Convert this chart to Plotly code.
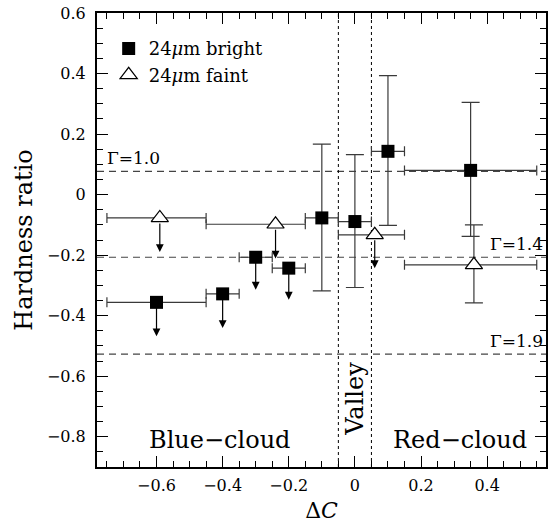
import plotly.graph_objects as go

FONT = "DejaVu Serif"

# ---------------- data ----------------
bright_x = [-0.6, -0.4, -0.3, -0.2, -0.1, 0.0, 0.1, 0.35]
bright_y = [-0.356, -0.328, -0.207, -0.243, -0.077, -0.089, 0.143, 0.080]
bright_xlo = [-0.75, -0.45, -0.35, -0.25, -0.15, -0.05, 0.05, 0.15]
bright_xhi = [-0.45, -0.35, -0.25, -0.15, -0.05, 0.05, 0.15, 0.55]
bright_ylo = [None, None, None, None, -0.318, -0.307, -0.102, -0.138]
bright_yhi = [None, None, None, None, 0.167, 0.132, 0.393, 0.305]
bright_limit = [-0.468, -0.441, -0.314, -0.347, None, None, None, None]

faint_x = [-0.59, -0.24, 0.06, 0.36]
faint_y = [-0.077, -0.098, -0.133, -0.232]
faint_xlo = [-0.75, -0.45, -0.05, 0.15]
faint_xhi = [-0.45, -0.15, 0.15, 0.55]
faint_ylo = [None, None, None, -0.358]
faint_yhi = [None, None, None, -0.100]
faint_limit = [-0.190, -0.211, -0.243, None]

gamma_levels = [0.077, -0.207, -0.527]
gamma_labels = ["Γ=1.0", "Γ=1.4", "Γ=1.9"]
valley_edges = [-0.05, 0.05]

xtick_vals = [-0.6, -0.4, -0.2, 0.0, 0.2, 0.4]
xtick_text = ["−0.6", "−0.4", "−0.2", "0", "0.2", "0.4"]
ytick_vals = [0.6, 0.4, 0.2, 0.0, -0.2, -0.4, -0.6, -0.8]
ytick_text = ["0.6", "0.4", "0.2", "0", "−0.2", "−0.4", "−0.6", "−0.8"]

ERRC = "#3a3a3a"

fig = go.Figure()


def add_series(xs, ys, xlo, xhi, ylo, yhi, marker, name):
    # points with only x errors (upper limits)
    lim = [i for i in range(len(xs)) if ylo[i] is None]
    det = [i for i in range(len(xs)) if ylo[i] is not None]
    if lim:
        fig.add_trace(go.Scatter(
            x=[xs[i] for i in lim], y=[ys[i] for i in lim], mode="markers",
            marker=marker, showlegend=False, name=name,
            error_x=dict(type="data", symmetric=False,
                         array=[xhi[i] - xs[i] for i in lim],
                         arrayminus=[xs[i] - xlo[i] for i in lim],
                         color=ERRC, thickness=1.2, width=5),
        ))
    if det:
        fig.add_trace(go.Scatter(
            x=[xs[i] for i in det], y=[ys[i] for i in det], mode="markers",
            marker=marker, showlegend=False, name=name,
            error_x=dict(type="data", symmetric=False,
                         array=[xhi[i] - xs[i] for i in det],
                         arrayminus=[xs[i] - xlo[i] for i in det],
                         color=ERRC, thickness=1.2, width=5),
            error_y=dict(type="data", symmetric=False,
                         array=[yhi[i] - ys[i] for i in det],
                         arrayminus=[ys[i] - ylo[i] for i in det],
                         color=ERRC, thickness=1.2, width=9),
        ))


sq_marker = dict(symbol="square", size=13, color="black", line=dict(width=0))
tri_marker = dict(symbol="triangle-up", size=15, color="white",
                  line=dict(color="black", width=1.2))

add_series(faint_x, faint_y, faint_xlo, faint_xhi, faint_ylo, faint_yhi,
           tri_marker, "faint")
add_series(bright_x, bright_y, bright_xlo, bright_xhi, bright_ylo, bright_yhi,
           sq_marker, "bright")

# upper-limit arrows
for xs, ys, lims, so in [(bright_x, bright_y, bright_limit, 0),
                         (faint_x, faint_y, faint_limit, 4)]:
    for xv, yv, lv in zip(xs, ys, lims):
        if lv is None:
            continue
        fig.add_annotation(x=xv, y=lv, ax=xv, ay=yv, xref="x", yref="y",
                           axref="x", ayref="y", text="", showarrow=True,
                           arrowhead=2, arrowsize=1.3, arrowwidth=1.2,
                           arrowcolor="black", startstandoff=so)

# legend entries
fig.add_trace(go.Scatter(x=[None], y=[None], mode="markers", marker=sq_marker,
                         name="24<i>μ</i>m bright"))
fig.add_trace(go.Scatter(x=[None], y=[None], mode="markers", marker=tri_marker,
                         name="24<i>μ</i>m faint"))

# reference lines
for lvl in gamma_levels:
    fig.add_hline(y=lvl, line=dict(color="#444444", width=1.2, dash="7px,5px"),
                  layer="below")
for v in valley_edges:
    fig.add_vline(x=v, line=dict(color="black", width=1, dash="dot"),
                  layer="below")

# Gamma labels
fig.add_annotation(x=-0.755, y=gamma_levels[0], xref="x", yref="y",
                   text=gamma_labels[0], showarrow=False, xanchor="left",
                   yanchor="bottom", yshift=1, font=dict(family=FONT, size=17))
for lvl, lab in zip(gamma_levels[1:], gamma_labels[1:]):
    fig.add_annotation(x=0.575, y=lvl, xref="x", yref="y", text=lab,
                       showarrow=False, xanchor="right", yanchor="bottom",
                       yshift=1, font=dict(family=FONT, size=17))

# region labels
fig.add_annotation(x=-0.41, y=-0.81, xref="x", yref="y", text="Blue−cloud",
                   showarrow=False, font=dict(family=FONT, size=24))
fig.add_annotation(x=0.0, y=-0.675, xref="x", yref="y", text="Valley",
                   showarrow=False, textangle=-90, font=dict(family=FONT, size=24))
fig.add_annotation(x=0.317, y=-0.81, xref="x", yref="y", text="Red−cloud",
                   showarrow=False, font=dict(family=FONT, size=24))

axis_common = dict(
    showline=True, linecolor="black", linewidth=2, mirror="allticks",
    ticks="inside", ticklen=11, tickwidth=1.2, tickcolor="black",
    showgrid=False, zeroline=False,
    tickfont=dict(family=FONT, size=16, color="black"),
)

fig.update_xaxes(
    range=[-0.78, 0.578], tickvals=xtick_vals, ticktext=xtick_text,
    minor=dict(dtick=0.05, tick0=0, ticks="inside", ticklen=6,
               tickwidth=1.2, tickcolor="black", showgrid=False),
    title=dict(text="Δ<i>C</i>", font=dict(family=FONT, size=22, color="black"),
               standoff=8),
    ticklabelstandoff=3,
    **axis_common,
)
fig.update_yaxes(
    range=[-0.9, 0.6], tickvals=ytick_vals, ticktext=ytick_text,
    minor=dict(dtick=0.05, tick0=0, ticks="inside", ticklen=6,
               tickwidth=1.2, tickcolor="black", showgrid=False),
    title=dict(text="Hardness ratio", font=dict(family=FONT, size=24, color="black"),
               standoff=8),
    ticklabelstandoff=6,
    **axis_common,
)

fig.update_layout(
    width=551, height=523,
    margin=dict(l=97, r=3, t=13, b=56),
    paper_bgcolor="white", plot_bgcolor="white",
    font=dict(family=FONT, color="black"),
    showlegend=True,
    legend=dict(x=0.026, y=0.962, xanchor="left", yanchor="top",
                bgcolor="rgba(0,0,0,0)", borderwidth=0,
                font=dict(family=FONT, size=18, color="black"),
                itemwidth=30, tracegroupgap=0),
)

fig.write_html("out.html", config={"displayModeBar": False},
               post_script="document.body.style.margin='0';document.body.style.overflow='hidden';")
